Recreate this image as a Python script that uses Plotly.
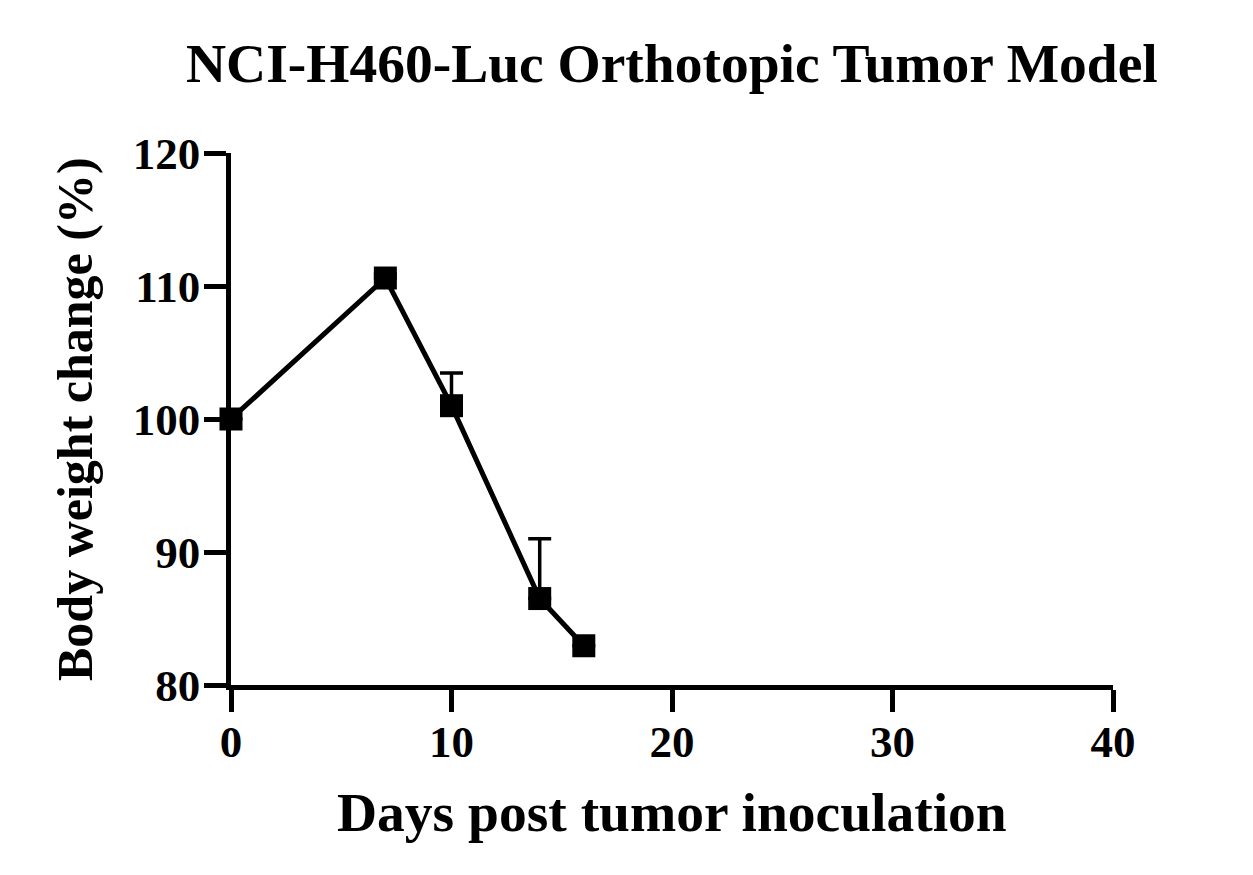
import plotly.graph_objects as go

days = [0, 7, 10, 14, 16]
weight = [100.0, 110.6, 101.0, 86.5, 82.95]
err_up = [0.0, 0.3, 2.45, 4.5, 0.0]

x_ticks = [0, 10, 20, 30, 40]
y_ticks = [80, 90, 100, 110, 120]

FONT = "Liberation Serif"

fig = go.Figure()
fig.add_trace(go.Scatter(
    x=days, y=weight,
    mode="lines+markers",
    line=dict(color="black", width=5),
    marker=dict(symbol="square", size=23, color="black"),
    error_y=dict(type="data", symmetric=False, array=err_up,
                 arrayminus=[0] * len(err_up), color="black",
                 thickness=3.5, width=11.5),
    cliponaxis=False,
    showlegend=False,
))

axis_common = dict(
    showgrid=False, zeroline=False, showline=True,
    linecolor="black", linewidth=4.5,
    ticks="outside", tickcolor="black", tickwidth=4.5, ticklen=22,
    tickfont=dict(family=FONT, size=45, color="black", weight="bold"),
    layer="below traces",
)

fig.update_xaxes(range=[0, 40], tickvals=x_ticks, ticktext=[str(v) for v in x_ticks],
                 ticklabelstandoff=-9, **axis_common)
fig.update_yaxes(range=[80, 120], tickvals=y_ticks, ticktext=[str(v) for v in y_ticks],
                 ticklabelstandoff=-5, **axis_common)

fig.add_annotation(text="<b>Days post tumor inoculation</b>", xref="paper", yref="paper",
                   x=0.5, y=0, yshift=-127, xanchor="center", yanchor="middle",
                   showarrow=False, font=dict(family=FONT, size=55.5, color="black"))
fig.add_annotation(text="<b>Body weight change (%)</b>", xref="paper", yref="paper",
                   x=0, y=0.5, xshift=-156, xanchor="center", yanchor="middle",
                   textangle=-90, showarrow=False,
                   font=dict(family=FONT, size=50, color="black"))
fig.add_annotation(text="<b>NCI-H460-Luc Orthotopic Tumor Model</b>", xref="paper", yref="paper",
                   x=0.5, y=1, yshift=90, xanchor="center", yanchor="middle",
                   showarrow=False, font=dict(family=FONT, size=55.5, color="black"))

fig.update_layout(
    width=1237, height=859,
    margin=dict(l=223, r=132, t=145, b=182),
    plot_bgcolor="white", paper_bgcolor="white",
)

fig.write_html("out.html")
